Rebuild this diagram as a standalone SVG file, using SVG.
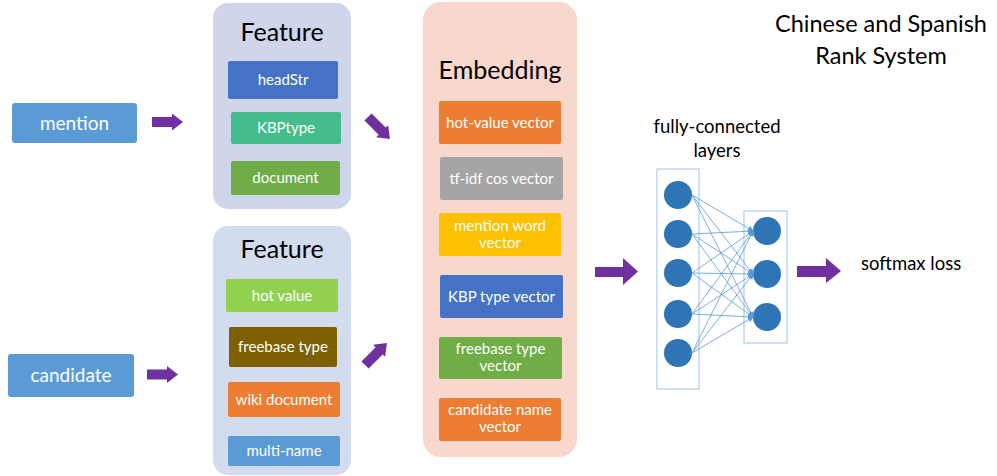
<svg xmlns="http://www.w3.org/2000/svg" width="997" height="476" viewBox="0 0 997 476">
<style>
text{font-family:Lato,"Open Sans","Liberation Sans",sans-serif}
.w{fill:#fff;font-size:15px;text-anchor:middle}
.h{fill:#000;font-size:25px;text-anchor:middle}
.b{fill:#000;font-size:18.5px}
.arr{fill:#7030A0}
.nn{stroke:#5B9BD5;stroke-width:0.8;fill:none;marker-end:url(#ah)}
.lay{fill:none;stroke:#9DC3E6;stroke-width:1}
.neu{fill:#2E75B6}
</style>
<defs>
<path id="bigarrow" d="M0,-5 H20 V-8.5 L31,0 L20,8.5 V5 H0 Z"/>
<marker id="ah" markerWidth="6" markerHeight="6" refX="5" refY="3" orient="auto" markerUnits="userSpaceOnUse"><path d="M0,0 L6,3 L0,6 Z" fill="#5B9BD5"/></marker>
</defs>

<g id="title">
<text class="b" x="881" y="32" style="font-size:23.5px;text-anchor:middle">Chinese and Spanish</text>
<text class="b" x="881" y="64" style="font-size:23.5px;text-anchor:middle">Rank System</text>
</g>

<g id="mention">
<rect x="12" y="103" width="125" height="40" rx="3" fill="#5B9BD5"/>
<text class="w" x="74.5" y="129.5" style="font-size:19px">mention</text>
</g>
<g id="candidate">
<rect x="8" y="354" width="126" height="43" rx="3" fill="#5B9BD5"/>
<text class="w" x="71" y="382" style="font-size:19px">candidate</text>
</g>

<g id="feature1">
<rect x="213" y="3" width="138" height="206" rx="15" fill="#CFD5EA"/>
<text class="h" x="282" y="41">Feature</text>
<rect x="228" y="61" width="110" height="38" rx="2" fill="#4472C4"/>
<text class="w" x="283" y="85">headStr</text>
<rect x="231" y="112" width="110" height="32" rx="2" fill="#43BD8C"/>
<text class="w" x="286" y="133">KBPtype</text>
<rect x="231" y="161" width="109" height="34" rx="2" fill="#70AD47"/>
<text class="w" x="285.5" y="183">document</text>
</g>

<g id="feature2">
<rect x="213" y="226" width="138" height="249" rx="15" fill="#D2DCEE"/>
<text class="h" x="282" y="258">Feature</text>
<rect x="226" y="279" width="112" height="33" rx="2" fill="#92D050"/>
<text class="w" x="282" y="300.5">hot value</text>
<rect x="229" y="327" width="108" height="40" rx="2" fill="#7F6000"/>
<text class="w" x="283" y="352">freebase type</text>
<rect x="228" y="382" width="112" height="35" rx="2" fill="#ED7D31"/>
<text class="w" x="284" y="404.5">wiki document</text>
<rect x="228" y="436" width="112" height="30" rx="2" fill="#5B9BD5"/>
<text class="w" x="284" y="456">multi-name</text>
</g>

<g id="embedding">
<rect x="423" y="2" width="154" height="455" rx="18" fill="#F8D7CC"/>
<text class="h" x="500" y="79">Embedding</text>
<rect x="439" y="101" width="122" height="43" rx="2" fill="#ED7D31"/>
<text class="w" x="500" y="127.5">hot-value vector</text>
<rect x="440" y="157" width="123" height="43" rx="2" fill="#A5A5A5"/>
<text class="w" x="501.5" y="183.5">tf-idf cos vector</text>
<rect x="439" y="213" width="122" height="43" rx="2" fill="#FFC000"/>
<text class="w" x="500" y="231">mention word</text>
<text class="w" x="500" y="248">vector</text>
<rect x="440" y="275" width="123" height="43" rx="2" fill="#4472C4"/>
<text class="w" x="501.5" y="301.5">KBP type vector</text>
<rect x="439" y="337" width="123" height="42" rx="2" fill="#70AD47"/>
<text class="w" x="500.5" y="354">freebase type</text>
<text class="w" x="500.5" y="371">vector</text>
<rect x="439" y="398" width="122" height="43" rx="2" fill="#ED7D31"/>
<text class="w" x="500" y="415">candidate name</text>
<text class="w" x="500" y="432">vector</text>
</g>

<g id="nn-label">
<text class="b" x="717" y="133" style="text-anchor:middle">fully-connected</text>
<text class="b" x="717" y="157" style="text-anchor:middle">layers</text>
</g>

<g id="input-layer">
<rect class="lay" x="657" y="169" width="42" height="220"/>
<circle class="neu" cx="678" cy="195" r="14"/>
<circle class="neu" cx="678" cy="234" r="14"/>
<circle class="neu" cx="678" cy="273" r="14"/>
<circle class="neu" cx="678" cy="314" r="14"/>
<circle class="neu" cx="678" cy="353" r="14"/>
</g>
<g id="output-layer">
<rect class="lay" x="744" y="211" width="43" height="132"/>
<circle class="neu" cx="767" cy="231" r="14"/>
<circle class="neu" cx="767" cy="274" r="14"/>
<circle class="neu" cx="767" cy="317" r="14"/>
</g>

<g id="softmax">
<text class="b" x="861" y="270">softmax loss</text>
</g>

<g id="connectors">
<use href="#bigarrow" class="arr" transform="translate(152,122)"/>
<use href="#bigarrow" class="arr" transform="translate(147,374.5)"/>
<use href="#bigarrow" class="arr" transform="translate(368,117) rotate(45)"/>
<use href="#bigarrow" class="arr" transform="translate(365,365) rotate(-45)"/>
<path class="arr" d="M595,267 H623 V258 L638,271.5 L623,285 V277 H595 Z"/>
<path class="arr" d="M797,266 H826 V258 L841,271 L826,283 V277 H797 Z"/>
<g id="nn-edges">
<path class="nn" d="M692,195 L753,231"/><path class="nn" d="M692,195 L753,274"/><path class="nn" d="M692,195 L753,317"/>
<path class="nn" d="M692,234 L753,231"/><path class="nn" d="M692,234 L753,274"/><path class="nn" d="M692,234 L753,317"/>
<path class="nn" d="M692,273 L753,231"/><path class="nn" d="M692,273 L753,274"/><path class="nn" d="M692,273 L753,317"/>
<path class="nn" d="M692,314 L753,231"/><path class="nn" d="M692,314 L753,274"/><path class="nn" d="M692,314 L753,317"/>
<path class="nn" d="M692,353 L753,231"/><path class="nn" d="M692,353 L753,274"/><path class="nn" d="M692,353 L753,317"/>
</g>
</g>
</svg>
